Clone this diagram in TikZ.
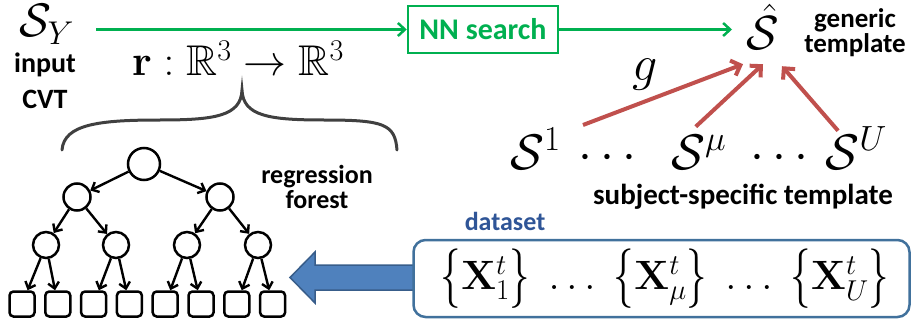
\RequirePackage{fix-cm}
\documentclass[tikz,border=0pt]{standalone}
\usepackage{amsmath,amssymb,graphicx}
\usepackage[no-math]{fontspec}
\newfontfamily\labfont{Carlito}
\usetikzlibrary{arrows.meta,calc}
\definecolor{nngreen}{HTML}{00B050}
\definecolor{gred}{HTML}{C0504D}
\definecolor{bfill}{HTML}{4F81BD}
\definecolor{bline}{HTML}{385D8A}
\definecolor{boxblue}{HTML}{41719C}
\definecolor{dstext}{HTML}{2F5597}
\definecolor{bracegray}{HTML}{404040}
\newcommand\tallL{\mathopen{\raisebox{-0.11em}{\scalebox{1}[1.45]{$\{$}}}}
\newcommand\tallR{\mathclose{\raisebox{-0.11em}{\scalebox{1}[1.45]{$\}$}}}}
\begin{document}
\begin{tikzpicture}[x=1pt,y=-1pt,
  lab/.style={font=\labfont\bfseries\fontsize{#1}{#1}\selectfont, inner sep=0pt, align=center},
  lab/.default=26,
  mth/.style={font=\fontsize{#1}{#1}\selectfont, inner sep=0pt},
  garrow/.style={draw=nngreen, line width=2.5pt, -{Straight Barb[length=7pt,width=13pt,line width=2.5pt]}},
  rarrow/.style={draw=gred, line width=4pt, -{Straight Barb[length=8pt,width=16pt,line width=4pt]}},
  barrow/.style={draw=black, line width=2.4pt, -{Straight Barb[length=6pt,width=11pt,line width=2.4pt]}},
  circ/.style={circle, draw, line width=2.5pt, minimum size=#1, inner sep=0pt},
  leaf/.style={draw, line width=2.5pt, rounded corners=4pt, minimum width=25pt, minimum height=25pt, inner sep=0pt}
]
\useasboundingbox (0,0) rectangle (911,321);

% top row
\node[mth=47, anchor=base west] (SY) at (19,37) {$\mathcal{S}_Y$};
\node[lab=28] (input) at (45,65) {input};
\node[lab=28] (cvt) at (45,99) {CVT};
\node[mth=43, anchor=base] (r) at (238,76) {$\mathbf{r}:\mathbb{R}^3\rightarrow\mathbb{R}^3$};
\node[lab=30, draw=nngreen, line width=2.5pt, minimum width=150pt, minimum height=47pt, text=nngreen] (nn) at (483,29.5) {NN search};
\node[mth=48, anchor=base] (Shat) at (763,50) {$\hat{\mathcal{S}}$};
\node[lab=27] (gen) at (855,33) {generic\\[-2pt]template};

\draw[garrow] (nn.west -| 96,0) -- (nn.west);
\draw[garrow] (nn.east) -- (nn.east -| 732,0);

% brace
\draw[bracegray, line width=3pt, line cap=round]
  (62,150) .. controls (64,124) and (100,120) .. (160,120)
  .. controls (215,120) and (241,116) .. (242,90)
  .. controls (243,116) and (269,120) .. (324,120)
  .. controls (384,120) and (395,124) .. (397,150);

% tree
\node[circ=32pt] (root) at (144,164) {};
\node[circ=27pt] (l2a) at (77,197) {};
\node[circ=27pt] (l2b) at (220,197) {};
\node[circ=26pt] (l3a) at (46,245) {};
\node[circ=26pt] (l3b) at (116,245) {};
\node[circ=26pt] (l3c) at (187,245) {};
\node[circ=26pt] (l3d) at (258,245) {};
\foreach \i/\x in {1/22,2/57.8,3/93.6,4/129.4,5/165.2,6/201,7/236.8,8/272.6}
  \node[leaf] (leaf\i) at (\x,304) {};
\draw[barrow] (root) -- (l2a);
\draw[barrow] (root) -- (l2b);
\draw[barrow] (l2a) -- (l3a);
\draw[barrow] (l2a) -- (l3b);
\draw[barrow] (l2b) -- (l3c);
\draw[barrow] (l2b) -- (l3d);
\draw[barrow] (l3a) -- (leaf1);
\draw[barrow] (l3a) -- (leaf2);
\draw[barrow] (l3b) -- (leaf3);
\draw[barrow] (l3b) -- (leaf4);
\draw[barrow] (l3c) -- (leaf5);
\draw[barrow] (l3c) -- (leaf6);
\draw[barrow] (l3d) -- (leaf7);
\draw[barrow] (l3d) -- (leaf8);
\node[lab] (rf) at (317,187) {regression\\[-1pt]forest};

% subject-specific templates
\node[mth=50, anchor=base west] (S1) at (510,169) {$\mathcal{S}^1$};
\node[mth=50, anchor=base west] (d1) at (578,169) {$\cdots$};
\node[mth=50, anchor=base west] (Smu) at (671,169) {$\mathcal{S}^\mu$};
\node[mth=50, anchor=base west] (d2) at (750,169) {$\cdots$};
\node[mth=50, anchor=base east] (SU) at (887,169) {$\mathcal{S}^U$};
\node[lab=29] (sst) at (743,197) {subject-specific template};
\node[mth=50] (g) at (645,75) {$g$};
\draw[rarrow] (583,125) -- ($(Shat.south)+(-20,14)$);
\draw[rarrow] ($(Smu.north)+(-3,-8)$) -- ($(Shat.south)+(0,14)$);
\draw[rarrow] ($(SU.north)+(-18,4)$) -- ($(Shat.south)+(19,16)$);

% dataset
\draw[bline, line width=1.5pt, fill=bfill]
  (415,265) -- (315,265) -- (315,252) -- (290,277.5) -- (315,303) -- (315,290) -- (415,290) -- cycle;
\node[draw=boxblue, line width=2.5pt, rounded corners=12pt, fill=white,
      minimum width=496pt, minimum height=77pt, inner sep=0pt] (ds) at (661.5,278.5) {};
\node[mth=41] (dsf) at (665,279) {$\tallL\mathbf{X}_1^t\tallR\;\ldots\;\tallL\mathbf{X}_\mu^t\tallR\;\ldots\;\tallL\mathbf{X}_U^t\tallR$};
\node[lab, text=dstext] (dsl) at (505,221) {dataset};
\end{tikzpicture}
\end{document}
